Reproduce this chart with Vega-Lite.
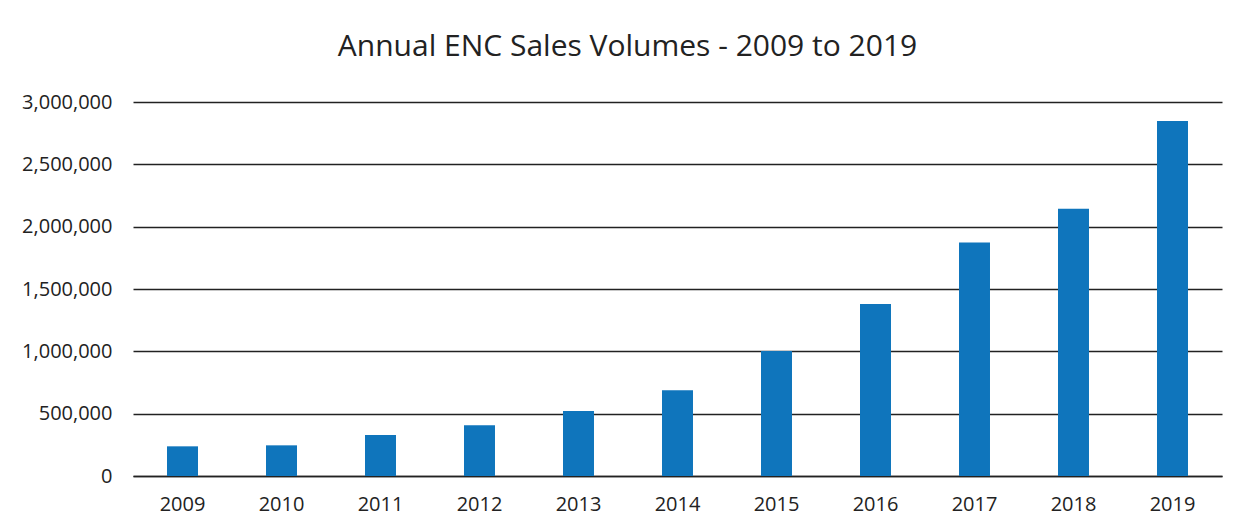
{
  "$schema": "https://vega.github.io/schema/vega-lite/v6.json",
  "autosize": "none",
  "width": 1089,
  "height": 374,
  "padding": {"left": 133, "top": 102, "right": 23, "bottom": 51},
  "background": "white",
  "title": {
    "text": "Annual ENC Sales Volumes - 2009 to 2019",
    "font": "Open Sans",
    "fontSize": 30,
    "fontWeight": "normal",
    "color": "#222222",
    "anchor": "middle",
    "frame": "group",
    "offset": 30,
    "dx": -50
  },
  "data": {
    "values": [
      {"year": "2009", "sales": 238000},
      {"year": "2010", "sales": 246000},
      {"year": "2011", "sales": 329000},
      {"year": "2012", "sales": 407000},
      {"year": "2013", "sales": 522000},
      {"year": "2014", "sales": 688000},
      {"year": "2015", "sales": 1002000},
      {"year": "2016", "sales": 1380000},
      {"year": "2017", "sales": 1872000},
      {"year": "2018", "sales": 2143000},
      {"year": "2019", "sales": 2847000}
    ]
  },
  "mark": {"type": "bar", "color": "#0f75bc"},
  "encoding": {
    "x": {
      "field": "year",
      "type": "ordinal",
      "title": null,
      "scale": {"paddingInner": 0.687, "paddingOuter": 0.3435},
      "axis": {
        "labelAngle": 0,
        "ticks": false,
        "domain": true,
        "domainColor": "#222222",
        "domainWidth": 1.5,
        "labelFont": "Open Sans",
        "labelFontSize": 20,
        "labelColor": "#222222",
        "labelPadding": 18
      }
    },
    "y": {
      "field": "sales",
      "type": "quantitative",
      "title": null,
      "scale": {"domain": [0, 3000000]},
      "axis": {
        "values": [0, 500000, 1000000, 1500000, 2000000, 2500000, 3000000],
        "format": ",d",
        "ticks": false,
        "domain": false,
        "grid": true,
        "gridColor": "#222222",
        "gridWidth": 1.5,
        "gridOpacity": 1,
        "labelFont": "Open Sans",
        "labelFontSize": 20,
        "labelColor": "#222222",
        "labelPadding": 21
      }
    }
  },
  "config": {
    "view": {"stroke": null}
  }
}
